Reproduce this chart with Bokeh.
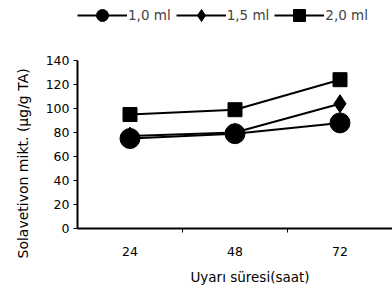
from bokeh.plotting import figure
from bokeh.models import FixedTicker, Legend, LegendItem, Range1d
from bokeh.embed import file_html
from bokeh.resources import INLINE

categories = ["24", "48", "72"]
series_names = ["1,0 ml", "1,5 ml", "2,0 ml"]
s10 = [75, 79, 88]
s15 = [77, 80, 104]
s20 = [95, 99, 124]
y_ticks = [0, 20, 40, 60, 80, 100, 120, 140]
x_title = "Uyarı süresi(saat)"
y_title = "Solavetivon mikt. (µg/g TA)"

FONT = "DejaVu Sans"
NBSP = "\u00a0"

p = figure(width=392, height=290, output_backend="svg", toolbar_location=None,
           x_range=Range1d(0, len(categories)), y_range=Range1d(0, 190),
           min_border_left=72, min_border_right=0, min_border_top=0, min_border_bottom=62,
           title=y_title, title_location="left")
p.outline_line_color = None
p.xgrid.visible = False
p.ygrid.visible = False

# y-axis title drawn as a left-side title so it can extend below the frame like the original
p.title.align = "left"
p.title.offset = -30
p.title.standoff = 24
p.title.text_font = FONT
p.title.text_font_size = "14px"
p.title.text_font_style = "normal"
p.title.text_color = "black"

xs = [i + 0.5 for i in range(len(categories))]

markers = ["circle", "diamond", "square"]
sizes = [20, 18, 14]
items = []
for name, vals, mk, sz in zip(series_names, [s10, s15, s20], markers, sizes):
    ln = p.line(xs, vals, line_color="black", line_width=2)
    sc = p.scatter(xs, vals, marker=mk, size=sz, fill_color="black", line_color="black")
    items.append(LegendItem(label=name, renderers=[ln, sc]))

legend = Legend(items=items, orientation="horizontal", location=(0, 198),
                glyph_width=50, glyph_height=30, label_standoff=1, spacing=5,
                padding=0, margin=0, border_line_color=None, background_fill_alpha=0,
                label_text_font=FONT, label_text_font_size="13.5px")
p.add_layout(legend, "center")

# x axis: labels at category centers, tick marks at boundaries
xt = FixedTicker(ticks=xs, minor_ticks=[1, 2])
p.xaxis.ticker = xt
p.xaxis.major_label_overrides = {x: c for x, c in zip(xs, categories)}
p.xaxis.major_tick_in = 0
p.xaxis.major_tick_out = 0
p.xaxis.minor_tick_in = 0
p.xaxis.minor_tick_out = 4
p.xaxis.minor_tick_line_color = "black"
p.xaxis.axis_line_width = 2
p.xaxis.axis_line_color = "black"
p.xaxis.axis_label = NBSP * 7 + x_title

p.yaxis.ticker = FixedTicker(ticks=y_ticks)
p.yaxis.bounds = (0, 140)
p.yaxis.major_tick_in = 0
p.yaxis.major_tick_out = 4
p.yaxis.minor_tick_line_color = None
p.yaxis.axis_line_width = 2
p.yaxis.axis_line_color = "black"

for ax in [p.xaxis, p.yaxis]:
    ax.major_label_text_font = FONT
    ax.major_label_text_font_size = "12.5px"
    ax.major_label_text_color = "black"
    ax.axis_label_text_font = FONT
    ax.axis_label_text_font_size = "13.5px"
    ax.axis_label_text_font_style = "normal"
    ax.axis_label_text_color = "black"
    ax.major_tick_line_color = "black"
p.xaxis.major_label_standoff = 14
p.xaxis.axis_label_standoff = 10
p.yaxis.major_label_standoff = 4

open("out.html", "w").write(file_html(p, INLINE))
